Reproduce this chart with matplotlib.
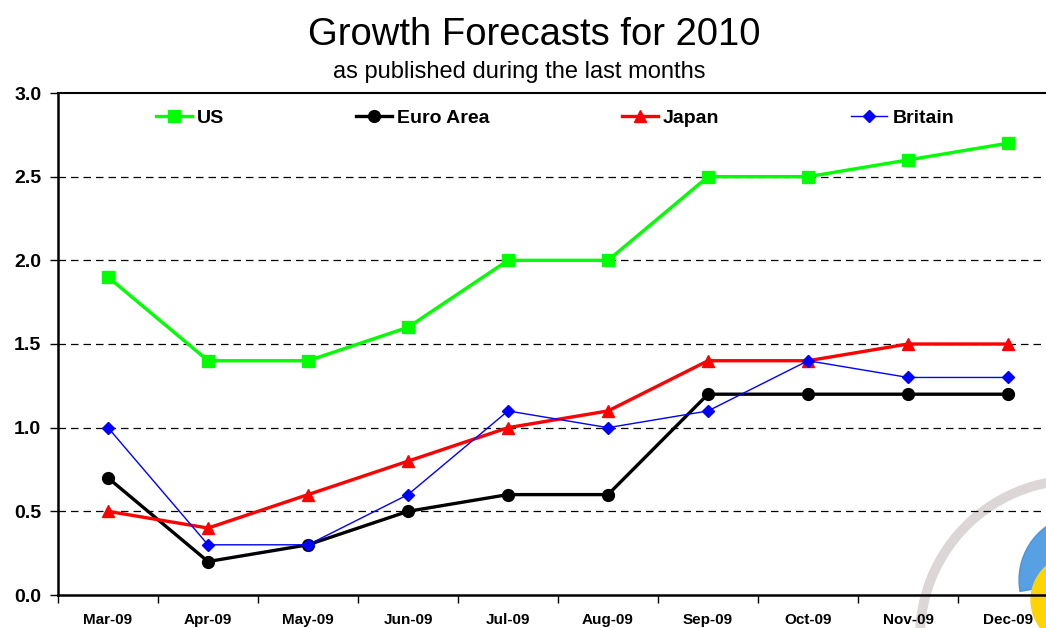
import numpy as np
import matplotlib
matplotlib.use("Agg")
import matplotlib.pyplot as plt
from matplotlib.patches import Arc, Wedge, Circle

plt.rcParams['font.family'] = ['Liberation Sans', 'DejaVu Sans']

# chart data
months = ["Mar-09", "Apr-09", "May-09", "Jun-09", "Jul-09",
          "Aug-09", "Sep-09", "Oct-09", "Nov-09", "Dec-09"]
us = [1.9, 1.4, 1.4, 1.6, 2.0, 2.0, 2.5, 2.5, 2.6, 2.7]
euro_area = [0.7, 0.2, 0.3, 0.5, 0.6, 0.6, 1.2, 1.2, 1.2, 1.2]
japan = [0.5, 0.4, 0.6, 0.8, 1.0, 1.1, 1.4, 1.4, 1.5, 1.5]
britain = [1.0, 0.3, 0.3, 0.6, 1.1, 1.0, 1.1, 1.4, 1.3, 1.3]
y_ticks = [0.0, 0.5, 1.0, 1.5, 2.0, 2.5, 3.0]

W, H = 1046, 628
fig = plt.figure(figsize=(W / 100, H / 100), dpi=100)

# faint logo in the lower right corner (pixel coords -> inches)
def px(x, y):
    return (x / 100, (H - y) / 100)

deco = fig.dpi_scale_trans
fig.add_artist(Arc(px(1077, 637), 3.14, 3.14, theta1=80, theta2=185,
                   color="#ddd6d6", lw=7, transform=deco, zorder=0))
fig.add_artist(Wedge(px(1085, 580), 0.66, 105, 190, width=0.26,
                     color="#3a8fe0", alpha=0.85, transform=deco, zorder=0))
fig.add_artist(Circle(px(1076, 600), 0.45, color="#ffd400",
                      transform=deco, zorder=0))

ax = fig.add_axes([58 / W, 1 - 595 / H, 1000 / W, 502 / H])
ax.set_facecolor("none")

x = np.arange(len(months))
ax.plot(x, us, color="#00ff00", lw=2.4, marker="s", ms=8, label="US", zorder=5)
ax.plot(x, euro_area, color="black", lw=2.4, marker="o", ms=8.5,
        label="Euro Area", zorder=4)
ax.plot(x, japan, color="#ff0000", lw=2.4, marker="^", ms=8.5,
        label="Japan", zorder=4)
ax.plot(x, britain, color="#0000ff", lw=1.0, marker="D", ms=6.5,
        label="Britain", zorder=6)

ax.set_xlim(-0.5, len(months) - 0.5)
ax.set_ylim(0, 3.0)

# x ticks at the category borders, labels at the centres
ax.set_xticks(np.arange(len(months)) - 0.5)
ax.set_xticklabels([])
ax.set_xticks(x, minor=True)
ax.set_xticklabels(months, minor=True, fontsize=11, fontweight="bold")
ax.tick_params(axis="x", which="major", direction="out", length=6, width=1)
ax.tick_params(axis="x", which="minor", length=0, pad=13)

ax.set_yticks(y_ticks)
ax.set_yticklabels([f"{v:.1f}" for v in y_ticks], fontsize=14, fontweight="bold")
ax.tick_params(axis="y", direction="out", length=6, width=1, pad=6)

for v in y_ticks[1:-1]:
    ax.axhline(v, color="black", lw=0.9, ls=(0, (6, 4)), zorder=1)

ax.spines["left"].set_linewidth(1.8)
ax.spines["bottom"].set_linewidth(1.8)
ax.spines["top"].set_linewidth(1.5)
ax.spines["right"].set_visible(False)

leg = fig.legend(loc="center left", bbox_to_anchor=(156 / W, 1 - 118 / H),
                 ncol=4, frameon=False, borderpad=0, borderaxespad=0,
                 handlelength=1.85, handletextpad=0.25, columnspacing=6.8,
                 numpoints=1, prop={"size": 14, "weight": "bold"})

fig.text(534 / W, 1 - 35 / H, "Growth Forecasts for 2010", fontsize=27.5,
         ha="center", va="center")
fig.text(519 / W, 1 - 72 / H, "as published during the last months",
         fontsize=17, ha="center", va="center")

fig.savefig("out.png", dpi=100)
